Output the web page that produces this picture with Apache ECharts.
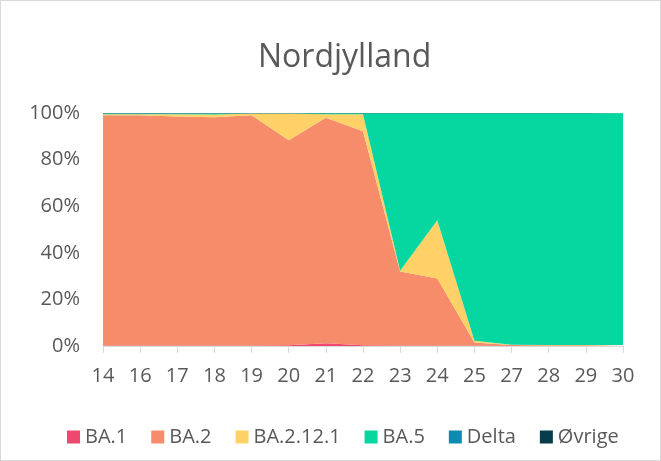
<!DOCTYPE html>
<html>
<head>
<meta charset="utf-8">
<script src="https://cdn.jsdelivr.net/npm/echarts@6/dist/echarts.min.js"></script>
<style>
    html, body { margin: 0; padding: 0; background: #fff; }
    #chart { width: 659px; height: 459px; border: 1px solid #d9d9d9; }
</style>
</head>
<body>
<div id="chart"></div>
<script>
// uger
const uger = ['14', '16', '17', '18', '19', '20', '21', '22', '23', '24', '25', '27', '28', '29', '30'];

// andele i procent
const ba1     = [0.2, 0.2, 0.2, 0.2, 0.2, 0.3, 1.2, 0.3, 0.2, 0.2, 0.1, 0.0, 0.0, 0.0, 0.0];
const ba2     = [98.8, 98.8, 98.3, 98.0, 98.8, 88.0, 96.8, 91.9, 31.8, 28.8, 1.4, 0.4, 0.3, 0.3, 0.3];
const ba2121  = [0.5, 0.5, 1.0, 1.2, 0.8, 11.5, 1.5, 7.3, 0.3, 25.0, 0.7, 0.1, 0.1, 0.1, 0.1];
const ba5     = [0.3, 0.3, 0.3, 0.4, 0.1, 0.1, 0.4, 0.4, 67.6, 45.9, 97.7, 99.4, 99.5, 99.5, 99.5];
const delta   = [0.1, 0.1, 0.1, 0.1, 0.0, 0.0, 0.0, 0.0, 0.0, 0.0, 0.0, 0.0, 0.0, 0.0, 0.0];
const ovrige  = [0.1, 0.1, 0.1, 0.1, 0.1, 0.1, 0.1, 0.1, 0.1, 0.1, 0.1, 0.1, 0.1, 0.1, 0.1];

const yTicks = [0, 20, 40, 60, 80, 100];

const farver = ['#ef476f', '#f78c6b', '#ffd166', '#06d6a0', '#118ab2', '#073b4c'];

window.onload = init;

function lagSerie(navn, data, farve) {
    return {
        name: navn,
        type: 'line',
        stack: 'total',
        data: data,
        symbol: 'none',
        lineStyle: { width: 0 },
        areaStyle: { color: farve, opacity: 1 },
        itemStyle: { color: farve }
    };
}

function init() {
    let chart = echarts.init(document.getElementById('chart'));

    let options = {
        animation: false,
        textStyle: { fontFamily: 'Open Sans', color: '#595959' },
        title: {
            text: 'Nordjylland',
            left: 252,
            top: 36,
            textStyle: { fontFamily: 'Open Sans', fontSize: 32, fontWeight: 'normal', color: '#595959' }
        },
        legend: {
            top: 421,
            left: 61,
            itemWidth: 13,
            itemHeight: 13,
            itemGap: 24,
            icon: 'rect',
            textStyle: { fontSize: 20, color: '#595959', fontFamily: 'Open Sans' },
            data: ['BA.1', 'BA.2', 'BA.2.12.1', 'BA.5', 'Delta', 'Øvrige']
        },
        grid: { left: 102, right: 37, top: 112, bottom: 114 },
        xAxis: {
            type: 'category',
            data: uger,
            boundaryGap: false,
            axisLine: { lineStyle: { color: '#d9d9d9' } },
            axisTick: { show: true, length: 7, lineStyle: { color: '#d9d9d9' } },
            axisLabel: { fontSize: 20, color: '#595959', margin: 20, fontFamily: 'Open Sans' }
        },
        yAxis: {
            type: 'value',
            min: 0,
            max: 100,
            interval: 20,
            axisLine: { show: false },
            axisTick: { show: false },
            splitLine: { lineStyle: { color: '#d9d9d9' } },
            axisLabel: {
                fontSize: 20,
                color: '#595959',
                margin: 23,
                fontFamily: 'Open Sans',
                formatter: v => yTicks.includes(v) ? v + '%' : ''
            }
        },
        series: [
            lagSerie('BA.1', ba1, farver[0]),
            lagSerie('BA.2', ba2, farver[1]),
            lagSerie('BA.2.12.1', ba2121, farver[2]),
            lagSerie('BA.5', ba5, farver[3]),
            lagSerie('Delta', delta, farver[4]),
            lagSerie('Øvrige', ovrige, farver[5])
        ]
    };

    chart.setOption(options);
}
</script>
</body>
</html>
